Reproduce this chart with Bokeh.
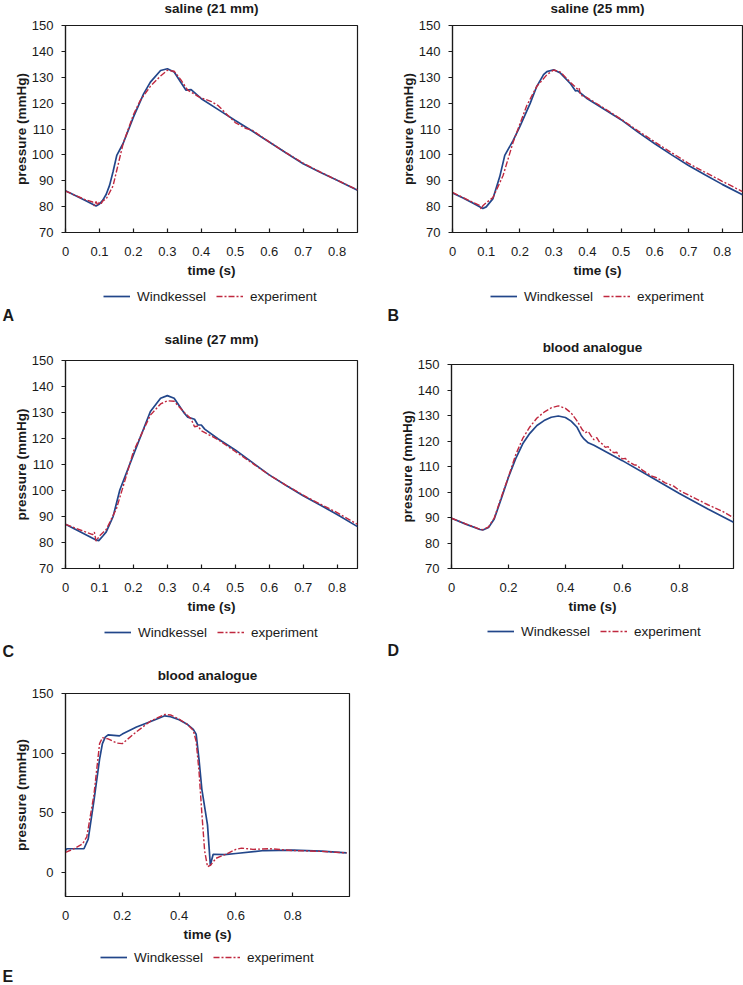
from bokeh.plotting import figure
from bokeh.models import Legend, LegendItem, FixedTicker, CustomJSTickFormatter, Range1d, Title, Label
from bokeh.layouts import column, row
from bokeh.embed import file_html
from bokeh.resources import INLINE

# ---------------- data ----------------
# Panel A: saline (21 mm)
t_a_wk = [0.0, 0.03, 0.06, 0.09, 0.10, 0.11, 0.12, 0.13, 0.14, 0.151, 0.17, 0.20, 0.23, 0.25, 0.28, 0.30, 0.32, 0.34, 0.355, 0.37, 0.40, 0.45, 0.50, 0.55, 0.60, 0.65, 0.70, 0.75, 0.80, 0.86]
p_a_wk = [86.1, 84.2, 82.3, 80.2, 81.0, 82.5, 84.8, 88.3, 93.5, 99.8, 104.5, 114.6, 123.6, 128.1, 132.6, 133.3, 132.0, 128.0, 125.0, 125.2, 121.7, 117.5, 113.3, 109.2, 105.0, 100.7, 96.6, 93.3, 90.2, 86.3]
t_a_ex = [0.0, 0.03, 0.06, 0.08, 0.085, 0.09, 0.095, 0.10, 0.105, 0.11, 0.12, 0.14, 0.17, 0.20, 0.22, 0.25, 0.28, 0.30, 0.32, 0.34, 0.36, 0.37, 0.38, 0.39, 0.40, 0.43, 0.45, 0.48, 0.50, 0.52, 0.53, 0.55, 0.60, 0.65, 0.70, 0.75, 0.80, 0.86]
p_a_ex = [86.0, 84.3, 82.6, 81.8, 80.3, 82.0, 80.5, 81.8, 81.2, 82.2, 83.0, 88.0, 104.5, 115.5, 121.0, 126.5, 130.5, 132.7, 132.3, 129.0, 125.0, 124.2, 123.5, 122.6, 122.0, 120.6, 119.0, 115.0, 112.5, 111.0, 110.3, 109.5, 105.0, 100.8, 96.8, 93.4, 90.2, 86.5]

# Panel B: saline (25 mm)
t_b_wk = [0.0, 0.03, 0.06, 0.09, 0.10, 0.12, 0.14, 0.155, 0.18, 0.20, 0.23, 0.25, 0.27, 0.28, 0.30, 0.32, 0.35, 0.365, 0.37, 0.40, 0.45, 0.50, 0.55, 0.60, 0.65, 0.70, 0.75, 0.80, 0.86]
p_b_wk = [85.3, 83.4, 81.4, 79.3, 79.9, 83.1, 91.5, 99.8, 105.6, 111.0, 119.8, 126.5, 131.0, 132.2, 132.9, 131.6, 127.5, 124.7, 124.9, 121.7, 117.6, 113.6, 108.8, 104.3, 100.0, 95.9, 92.2, 88.6, 84.6]
t_b_ex = [0.0, 0.03, 0.06, 0.08, 0.085, 0.09, 0.10, 0.12, 0.15, 0.18, 0.20, 0.22, 0.25, 0.28, 0.30, 0.32, 0.35, 0.37, 0.375, 0.38, 0.39, 0.40, 0.45, 0.50, 0.55, 0.60, 0.65, 0.70, 0.75, 0.80, 0.86]
p_b_ex = [85.5, 83.6, 81.7, 80.5, 79.0, 80.3, 81.5, 83.5, 92.0, 105.0, 112.0, 119.0, 126.5, 131.0, 132.8, 132.0, 128.0, 125.5, 126.0, 123.0, 122.8, 122.0, 118.0, 113.8, 109.3, 105.0, 100.8, 96.7, 93.2, 89.8, 85.8]

# Panel C: saline (27 mm)
t_c_wk = [0.0, 0.03, 0.06, 0.09, 0.098, 0.11, 0.12, 0.14, 0.16, 0.20, 0.25, 0.28, 0.30, 0.32, 0.35, 0.36, 0.38, 0.39, 0.40, 0.41, 0.45, 0.50, 0.55, 0.60, 0.65, 0.70, 0.75, 0.80, 0.86]
p_c_wk = [87.0, 85.0, 83.0, 81.0, 80.7, 82.5, 84.1, 89.9, 100.2, 113.7, 130.4, 135.5, 136.5, 135.5, 129.7, 128.2, 127.4, 125.2, 125.2, 123.6, 119.8, 115.6, 110.8, 106.0, 101.9, 98.0, 94.4, 90.8, 86.1]
t_c_ex = [0.0, 0.03, 0.06, 0.08, 0.085, 0.09, 0.10, 0.12, 0.15, 0.18, 0.20, 0.25, 0.28, 0.30, 0.32, 0.35, 0.37, 0.38, 0.39, 0.40, 0.45, 0.50, 0.55, 0.60, 0.65, 0.70, 0.75, 0.80, 0.86]
p_c_ex = [87.0, 85.5, 84.0, 83.0, 84.0, 80.5, 82.5, 85.0, 93.0, 106.0, 115.0, 129.0, 133.3, 134.5, 134.3, 130.0, 127.5, 124.5, 124.8, 123.0, 119.5, 115.0, 110.5, 106.0, 102.0, 98.2, 94.8, 91.5, 87.0]

# Panel D: blood analogue
t_d_wk = [0.0, 0.05, 0.10, 0.11, 0.13, 0.15, 0.175, 0.20, 0.225, 0.25, 0.275, 0.30, 0.325, 0.35, 0.375, 0.40, 0.42, 0.44, 0.455, 0.465, 0.48, 0.50, 0.60, 0.70, 0.80, 0.90, 0.99]
p_d_wk = [89.7, 87.4, 85.3, 85.1, 86.1, 89.4, 97.5, 105.8, 113.0, 118.9, 123.0, 126.1, 128.0, 129.3, 129.8, 129.2, 127.8, 125.5, 122.3, 120.8, 119.3, 118.3, 112.3, 105.9, 99.4, 93.3, 88.1]
t_d_ex = [0.0, 0.05, 0.10, 0.11, 0.13, 0.15, 0.175, 0.20, 0.225, 0.25, 0.275, 0.30, 0.325, 0.35, 0.375, 0.40, 0.42, 0.44, 0.46, 0.47, 0.48, 0.49, 0.50, 0.51, 0.52, 0.53, 0.54, 0.55, 0.56, 0.57, 0.58, 0.59, 0.60, 0.61, 0.62, 0.64, 0.65, 0.67, 0.70, 0.72, 0.75, 0.78, 0.80, 0.85, 0.90, 0.95, 0.99]
p_d_ex = [89.7, 87.5, 85.4, 85.2, 86.3, 89.8, 98.0, 106.0, 114.5, 121.0, 125.5, 129.0, 131.3, 133.0, 133.8, 132.8, 131.0, 128.0, 124.3, 123.3, 123.8, 122.0, 120.5, 121.3, 119.5, 118.8, 117.5, 117.8, 116.0, 115.4, 115.6, 113.8, 113.0, 113.2, 112.0, 110.7, 110.5, 108.6, 106.4, 105.6, 103.6, 102.3, 100.6, 97.8, 95.0, 92.5, 89.9]

# Panel E: blood analogue
t_e_wk = [0.0, 0.005, 0.065, 0.08, 0.10, 0.12, 0.13, 0.14, 0.15, 0.19, 0.20, 0.25, 0.30, 0.35, 0.37, 0.40, 0.43, 0.45, 0.46, 0.47, 0.48, 0.50, 0.51, 0.52, 0.56, 0.60, 0.70, 0.80, 0.90, 0.99]
p_e_wk = [18.5, 20.0, 20.0, 28.0, 60.0, 95.0, 108.0, 113.5, 115.4, 114.5, 116.0, 122.0, 126.5, 131.3, 130.5, 128.0, 124.0, 120.0, 116.0, 95.0, 70.0, 40.0, 6.4, 15.4, 15.0, 16.0, 18.5, 18.8, 18.0, 16.5]
t_e_ex = [0.0, 0.03, 0.06, 0.075, 0.10, 0.12, 0.13, 0.15, 0.18, 0.20, 0.22, 0.25, 0.30, 0.35, 0.37, 0.40, 0.43, 0.45, 0.46, 0.47, 0.48, 0.49, 0.50, 0.51, 0.53, 0.57, 0.60, 0.62, 0.66, 0.72, 0.80, 0.90, 0.99]
p_e_ex = [17.0, 20.0, 24.0, 30.0, 65.0, 108.0, 113.0, 112.0, 108.5, 108.0, 112.0, 118.0, 127.0, 132.5, 132.0, 128.5, 124.0, 119.0, 110.0, 85.0, 50.0, 18.0, 5.0, 6.0, 12.0, 16.0, 19.5, 20.5, 19.5, 20.0, 18.5, 17.8, 16.5]

ticks_x_fine = [0.0, 0.1, 0.2, 0.3, 0.4, 0.5, 0.6, 0.7, 0.8]
ticks_x_coarse = [0.0, 0.2, 0.4, 0.6, 0.8]
ticks_y_fine = [70, 80, 90, 100, 110, 120, 130, 140, 150]
ticks_y_coarse = [0, 50, 100, 150]

titles = ["saline (21 mm)", "saline (25 mm)", "saline (27 mm)", "blood analogue", "blood analogue"]
letters = ["A", "B", "C", "D", "E"]
series_labels = ["Windkessel", "experiment"]

# ---------------- style ----------------
FONT = "Liberation Sans"
BLUE = "#22468a"
RED = "#c0283f"
INK = "#1a1a1a"
WK_STYLE = dict(line_color=BLUE, line_width=1.7)
EX_STYLE = dict(line_color=RED, line_width=1.4, line_dash="6 2 2 2")


def bare(width, height, mbb=0):
    c = figure(width=width, height=height, output_backend="svg", toolbar_location=None,
               x_range=Range1d(0, 1), y_range=Range1d(1000, 1001), x_axis_type=None, y_axis_type=None,
               min_border_left=0, min_border_right=0, min_border_top=0, min_border_bottom=mbb)
    c.outline_line_color = None
    return c


def header(title, width, height, fw, ty):
    h = bare(width, height)
    h.add_layout(Label(x=fw / 2, y=ty, x_units="screen", y_units="screen", text=title,
                       text_font=FONT, text_font_size="13.5px", text_font_style="bold",
                       text_color=INK, text_align="center", text_baseline="middle"))
    return h


def chart(t_wk, p_wk, t_ex, p_ex, xr, yr, xt, yt, width, height, mbl, mbr, mbt, mbb):
    p = figure(width=width, height=height, output_backend="svg", toolbar_location=None,
               x_range=Range1d(*xr), y_range=Range1d(*yr),
               min_border_left=mbl, min_border_right=mbr, min_border_top=mbt, min_border_bottom=mbb)
    p.grid.visible = False
    p.outline_line_color = INK
    p.outline_line_width = 1.2

    p.line(t_wk, p_wk, **WK_STYLE)
    p.line(t_ex, p_ex, **EX_STYLE)

    xa = p.xaxis[0]
    xa.ticker = FixedTicker(ticks=xt)
    xa.formatter = CustomJSTickFormatter(code="return tick.toFixed(1).replace(/\\.0$/, '');")
    xa.minor_tick_line_color = None
    xa.major_tick_in = 4
    xa.major_tick_out = 0
    xa.major_label_standoff = 14
    xa.axis_label = "time (s)"
    xa.axis_label_standoff = 4
    ya = p.yaxis[0]
    ya.ticker = FixedTicker(ticks=yt)
    ya.minor_tick_line_color = None
    ya.major_tick_in = 0
    ya.major_tick_out = 4
    ya.major_label_standoff = 8
    ya.axis_label = "pressure (mmHg)"
    ya.axis_label_standoff = 0
    for ax in (xa, ya):
        ax.axis_line_color = INK
        ax.axis_line_width = 1.2
        ax.major_tick_line_color = INK
        ax.major_tick_line_width = 1.2
        ax.major_label_text_font = FONT
        ax.major_label_text_font_size = "13px"
        ax.major_label_text_color = INK
        ax.axis_label_text_font = FONT
        ax.axis_label_text_font_size = "13.5px"
        ax.axis_label_text_font_style = "bold"
        ax.axis_label_text_color = INK
    return p


def caption(letter, t_wk, p_wk, t_ex, p_ex, width, height, mbb, leg_x, leg_y, let_offset):
    c = bare(width, height, mbb)
    # the series again, outside this strip's visible range: only their legend keys show
    k1 = c.line(t_wk, p_wk, **WK_STYLE)
    k2 = c.line(t_ex, p_ex, **EX_STYLE)
    leg = Legend(items=[LegendItem(label=series_labels[0], renderers=[k1]),
                        LegendItem(label=series_labels[1], renderers=[k2])],
                 location=(leg_x, leg_y), orientation="horizontal",
                 glyph_width=27, glyph_height=16, label_height=16, label_standoff=7, spacing=10,
                 padding=0, margin=0, border_line_color=None, background_fill_alpha=0,
                 label_text_font=FONT, label_text_font_size="13.5px", label_text_color=INK)
    c.add_layout(leg, "center")
    c.add_layout(Title(text=letter, align="left", offset=let_offset, standoff=0,
                       text_font=FONT, text_font_size="16px", text_font_style="bold",
                       text_color=INK), "below")
    return c


# panel A
ha = header(titles[0], 370, 17, 292, 9)
pa = chart(t_a_wk, p_a_wk, t_a_ex, p_a_ex, (0, 0.86), (70, 150), ticks_x_fine, ticks_y_fine,
           370, 267, 65, 13, 8, 52)
ca = caption(letters[0], t_a_wk, p_a_wk, t_a_ex, p_a_ex, 370, 46, 26, 38, 0, -63)
# panel B
hb = header(titles[1], 373, 17, 290, 9)
pb = chart(t_b_wk, p_b_wk, t_b_ex, p_b_ex, (0, 0.86), (70, 150), ticks_x_fine, ticks_y_fine,
           373, 267, 82, 1, 8, 52)
cb = caption(letters[1], t_b_wk, p_b_wk, t_b_ex, p_b_ex, 373, 46, 26, 38, 0, -65)
# panel C
hc = header(titles[2], 370, 22, 292, 12.7)
pc = chart(t_c_wk, p_c_wk, t_c_ex, p_c_ex, (0, 0.86), (70, 150), ticks_x_fine, ticks_y_fine,
           370, 268, 65, 13, 8, 52)
cc = caption(letters[2], t_c_wk, p_c_wk, t_c_ex, p_c_ex, 370, 40, 20, 39, 0, -63)
# panel D
hd = header(titles[3], 373, 26, 282, 9.3)
pd = chart(t_d_wk, p_d_wk, t_d_ex, p_d_ex, (0, 0.99), (70, 150), ticks_x_coarse, ticks_y_fine,
           373, 264, 81, 10, 8, 52)
cd = caption(letters[3], t_d_wk, p_d_wk, t_d_ex, p_d_ex, 373, 40, 21, 36, 0, -64)
# panel E
he = header(titles[4], 370, 25, 284, 10)
pe = chart(t_e_wk, p_e_wk, t_e_ex, p_e_ex, (0, 1.0), (-20, 150), ticks_x_coarse, ticks_y_coarse,
           370, 263, 65, 21, 8, 52)
ce = caption(letters[4], t_e_wk, p_e_wk, t_e_ex, p_e_ex, 370, 36, 18, 35, 0, -63)

layout = column(row(column(ha, pa, ca), column(hb, pb, cb)),
                row(column(hc, pc, cc), column(hd, pd, cd)),
                row(column(he, pe, ce)))
open("out.html", "w").write(file_html(layout, INLINE))
